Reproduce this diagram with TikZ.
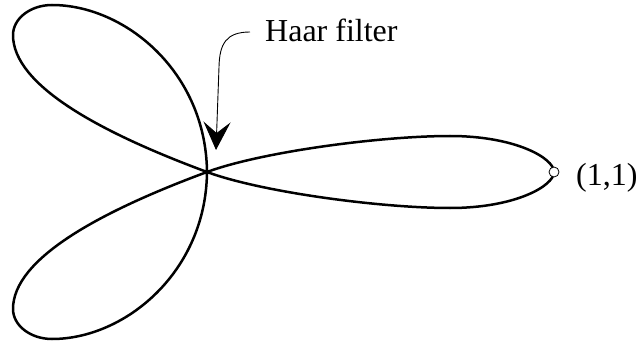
\documentclass[tikz,border=0pt]{standalone}
\usepackage{fontspec}
\setmainfont{Liberation Serif}
\usetikzlibrary{arrows.meta}
\begin{document}
\begin{tikzpicture}[x=1pt,y=-1pt,
  curve/.style={line width=2.5pt,line join=round},
  pointer/.style={line width=0.9pt,-{Stealth[length=28pt,width=27pt,inset=11pt]}},
  lbl/.style={font=\fontsize{32}{38}\selectfont,inner sep=0pt,anchor=base west}]
\useasboundingbox (0,-172) rectangle (640,171);
\coordinate (c) at (207,0);
\draw[curve] (c)
  .. controls (206,100) and (125,167) .. (52,167)
  .. controls (30.5,167) and (13,153.5) .. (13,137)
  .. controls (13,87) and (99,40) .. (c)
  .. controls (261,-20) and (380,-36) .. (450,-36)
  .. controls (515,-36) and (554,-14) .. (554,0)
  .. controls (554,14) and (515,36) .. (450,36)
  .. controls (380,36) and (261,20) .. (c)
  .. controls (99,-40) and (13,-87) .. (13,-137)
  .. controls (13,-153.5) and (30.5,-167) .. (52,-167)
  .. controls (125,-167) and (206,-100) .. cycle;
\node[draw,circle,fill=white,inner sep=0pt,minimum size=10pt,line width=0.8pt] (p11) at (554,0) {};
\node[lbl] (p11label) at (576,13) {(1,1)};
\node[lbl] (haar) at (265,-130) {Haar filter};
\coordinate (arrowstart) at (250,-140);
\coordinate (haartip) at (216,-22);
\draw[pointer] (arrowstart) .. controls (226,-140) and (219.5,-128) .. (219,-105) -- (haartip);
\end{tikzpicture}
\end{document}
